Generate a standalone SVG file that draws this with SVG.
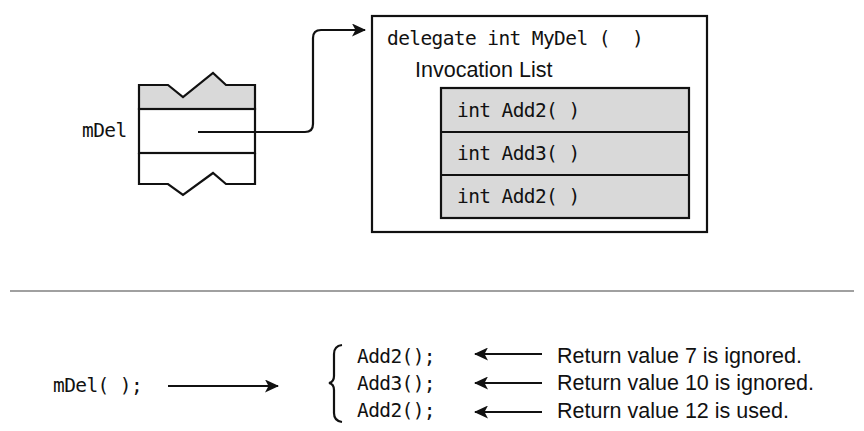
<svg xmlns="http://www.w3.org/2000/svg" width="864" height="431" viewBox="0 0 864 431">
<style>
.mono{font-family:"DejaVu Sans Mono","Liberation Mono",monospace;font-size:19.5px;letter-spacing:-0.6px;fill:#111}
.sans{font-family:"Liberation Sans",Arial,sans-serif;font-size:21.5px;fill:#111}
.ln{fill:none;stroke:#111;stroke-width:2.2}
.gray{fill:#d9d9d9;stroke:#111;stroke-width:2.2}
</style>
<defs>
<marker id="ah" viewBox="0 0 14 13" refX="13" refY="6.5" markerWidth="14" markerHeight="13" markerUnits="userSpaceOnUse" orient="auto">
<path d="M0,0 L14,6.5 L0,13 L3.5,6.5 Z" fill="#111"/>
</marker>
</defs>
<rect width="864" height="431" fill="#fff"/>
<g id="mDelVar">
<polygon class="gray" points="139,85 168,85 183,97 213,73 226,85 255,85 255,109 139,109"/>
<rect class="ln" x="139" y="109" width="116" height="44" fill="#fff"/>
<polyline class="ln" points="139,153 139,184 168,184 183,195 213,173 226,184 255,184 255,153"/>
<text class="mono" x="82" y="137">mDel</text>
</g>
<g id="delegateObj">
<rect class="ln" x="372" y="16" width="335" height="216" fill="#fff"/>
<text class="mono" x="387" y="45" xml:space="preserve">delegate int MyDel (  )</text>
<text class="sans" x="415" y="77">Invocation List</text>
<g id="invList">
<rect class="gray" x="441" y="88" width="248" height="130"/>
<line class="ln" x1="441" y1="132" x2="689" y2="132"/>
<line class="ln" x1="441" y1="175" x2="689" y2="175"/>
<text class="mono" x="457" y="117">int Add2( )</text>
<text class="mono" x="457" y="160">int Add3( )</text>
<text class="mono" x="457" y="203">int Add2( )</text>
</g>
</g>
<g id="separator">
<line x1="10" y1="291" x2="854" y2="291" stroke="#808080" stroke-width="1.5"/>
</g>
<g id="call">
<text class="mono" x="53" y="392">mDel( );</text>
</g>
<g id="calls">
<path class="ln" d="M342,345 Q334,346 334,354 L334,376 Q334,382 329,383 Q334,384 334,390 L334,413 Q334,421 342,422"/>
<text class="mono" x="357" y="363">Add2();</text>
<text class="mono" x="357" y="390">Add3();</text>
<text class="mono" x="357" y="417">Add2();</text>
</g>
<g id="results">
<text class="sans" x="557" y="363">Return value 7 is ignored.</text>
<text class="sans" x="557" y="390">Return value 10 is ignored.</text>
<text class="sans" x="557" y="418">Return value 12 is used.</text>
</g>
<g id="connectors">
<path class="ln" d="M198,132 L305,132 Q313,132 313,124 L313,38 Q313,30 321,30 L365,30" marker-end="url(#ah)"/>
<line class="ln" x1="168" y1="386" x2="278" y2="386" marker-end="url(#ah)"/>
<line class="ln" x1="542" y1="354" x2="475" y2="354" marker-end="url(#ah)"/>
<line class="ln" x1="542" y1="383" x2="475" y2="383" marker-end="url(#ah)"/>
<line class="ln" x1="542" y1="412" x2="475" y2="412" marker-end="url(#ah)"/>
</g>
</svg>
